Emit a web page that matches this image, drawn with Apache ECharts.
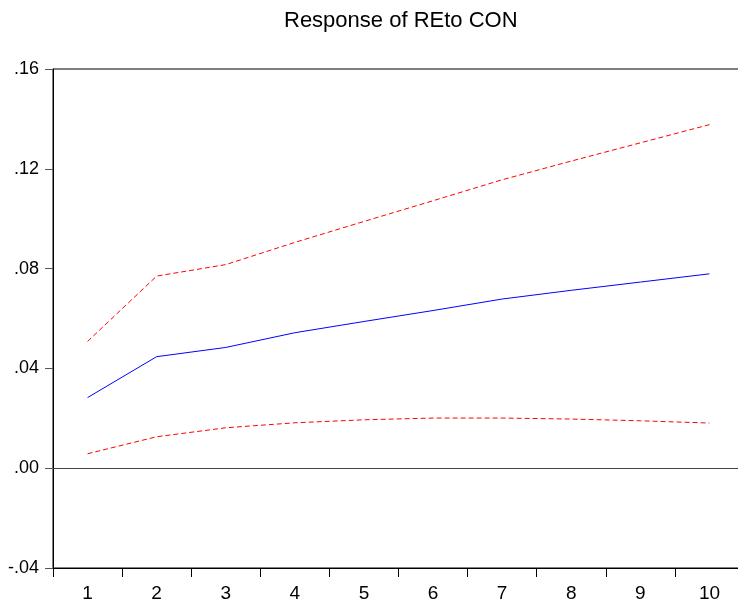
<!DOCTYPE html>
<html>
<head>
<meta charset="utf-8">
<script src="https://cdn.jsdelivr.net/npm/echarts@6/dist/echarts.min.js"></script>
<style>
  html,body{margin:0;padding:0;background:#fff}
  #main{width:738px;height:606px}
</style>
</head>
<body>
<div id="main"></div>
<script>
// impulse response of RE to CON, with +/- 2 s.e. bands
const periods=['1','2','3','4','5','6','7','8','9','10']
const response=[0.0283,0.0447,0.0484,0.0543,0.0588,0.0632,0.0678,0.0713,0.0746,0.0779]
const upperBand=[0.0508,0.0770,0.0816,0.0905,0.0989,0.1072,0.1156,0.1231,0.1304,0.1377]
const lowerBand=[0.0058,0.0126,0.0162,0.0182,0.0194,0.0201,0.0201,0.0197,0.0190,0.0181]
const yTicks={min:-0.04,max:0.16,step:0.04}

const font='Liberation Sans'
const myChart=echarts.init(document.getElementById('main'))

function fmt(v){
  // eviews style: .16 / .00 / -.04
  return v.toFixed(2).replace('0.','.')
}

const option={
  animation:false,
  title:{
    text:'Response of REto CON',
    left:279,
    top:5,
    textStyle:{fontFamily:font,fontSize:22,fontWeight:'normal',color:'#000'}
  },
  grid:{
    left:53,top:69,width:691,bottom:38,
    outerBoundsMode:'none',
    show:true,borderColor:'#000',borderWidth:1
  },
  xAxis:{
    type:'category',
    data:periods,
    boundaryGap:true,
    axisLine:{onZero:false,lineStyle:{color:'#000',width:1}},
    axisTick:{show:true,length:9,inside:false,lineStyle:{color:'#000'}},
    axisLabel:{fontFamily:font,fontSize:19,color:'#000',margin:16}
  },
  yAxis:{
    type:'value',
    min:yTicks.min,max:yTicks.max,interval:yTicks.step,
    splitLine:{show:false},
    axisLine:{show:true,lineStyle:{color:'#000'}},
    axisTick:{show:true,length:8,lineStyle:{color:'#555'}},
    axisLabel:{fontFamily:font,fontSize:18,color:'#000',margin:14,formatter:fmt}
  },
  series:[
    {
      name:'response',
      type:'line',
      data:response,
      symbol:'none',
      lineStyle:{color:'#0000ff',width:1},
      markLine:{
        silent:true,
        symbol:'none',
        label:{show:false},
        lineStyle:{color:'#444',type:'solid',width:1},
        data:[{yAxis:0}]
      }
    },
    {
      name:'upper',
      type:'line',
      data:upperBand,
      symbol:'none',
      lineStyle:{color:'#ff0000',width:1,type:[5,3]}
    },
    {
      name:'lower',
      type:'line',
      data:lowerBand,
      symbol:'none',
      lineStyle:{color:'#ff0000',width:1,type:[5,3]}
    }
  ]
}

myChart.setOption(option)
</script>
</body>
</html>
